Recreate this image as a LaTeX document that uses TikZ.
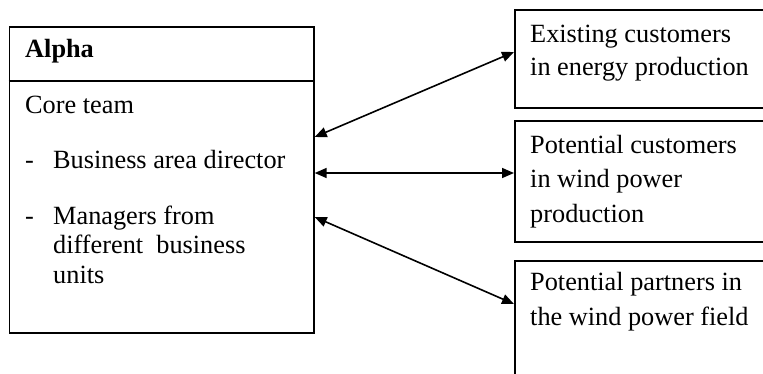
\documentclass[tikz,border=0pt]{standalone}
\usepackage{fontspec}
\setmainfont{Liberation Serif}
\usetikzlibrary{arrows.meta}
\begin{document}
\begin{tikzpicture}[x=1pt,y=-1pt,
  frame/.style={draw,line width=1.7pt,rectangle,inner sep=0pt,anchor=north west},
  txt/.style={anchor=base west,inner sep=0pt,font=\fontsize{26.3}{34}\selectfont},
  link/.style={line width=1.6pt,{Triangle[length=12pt,width=10pt]}-{Triangle[length=12pt,width=10pt]}}]
\useasboundingbox (0,0) rectangle (763,373);

% left box with heading row
\node[frame,minimum width=304.5pt,minimum height=306pt] (alpha) at (8.5,26) {};
\draw[line width=1.7pt] ([yshift=-55pt]alpha.north west) coordinate (dl) -- (dl -| alpha.east) coordinate (dr);
\node[txt,font=\fontsize{26.3}{34}\selectfont\bfseries] (ttl) at (25,57) {Alpha};
\node[txt] (core) at (25,113) {Core team};
\node[txt] (d1) at (25,168) {-};
\node[txt] (bad) at (53,168) {Business area director};
\node[txt] (d2) at (25,224) {-};
\node[txt] (m1) at (53,224) {Managers from};
\node[txt] (m2) at (53,253.5) {different\ \ business};
\node[txt] (m3) at (53,283) {units};

% right boxes
\node[frame,minimum width=248.5pt,minimum height=98pt] (ex) at (514,9) {};
\node[txt] (ex1) at (530,42) {Existing customers};
\node[txt] (ex2) at (530,75) {in energy production};

\node[frame,minimum width=248.5pt,minimum height=121pt] (pc) at (514,120) {};
\node[txt] (pc1) at (530,153) {Potential customers};
\node[txt] (pc2) at (530,187.5) {in wind power};
\node[txt] (pc3) at (530,222) {production};

\node[frame,minimum width=248.5pt,minimum height=140pt] (pp) at (514,260) {};
\node[txt] (pp1) at (530,290) {Potential partners in};
\node[txt] (pp2) at (530,325) {the wind power field};

% two-way links
\draw[link] ([yshift=-111pt]alpha.north east) -- ([yshift=-43pt]ex.north west);
\draw[link] ([yshift=-147pt]alpha.north east) -- ([yshift=-53pt]pc.north west);
\draw[link] ([yshift=-191pt]alpha.north east) -- ([yshift=-44pt]pp.north west);
\end{tikzpicture}
\end{document}
